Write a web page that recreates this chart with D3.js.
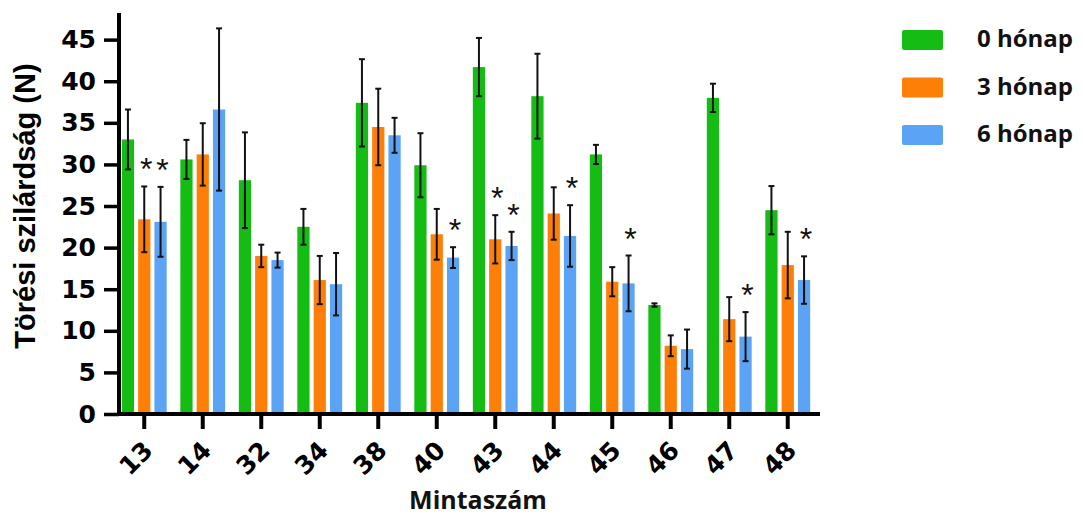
<!DOCTYPE html>
<html>
<head>
<meta charset="utf-8">
<script src="https://cdnjs.cloudflare.com/ajax/libs/d3/7.8.5/d3.min.js"></script>
<style>
  body { margin: 0; background: #fff; }
  svg { display: block; }
</style>
</head>
<body>
<div id="chart"></div>
<script>
// minták és csoportok
var samples = ["13", "14", "32", "34", "38", "40", "43", "44", "45", "46", "47", "48"];
var series = ["0 hónap", "3 hónap", "6 hónap"];
var colors = ["#14bc14", "#fd7f08", "#5ba3f5"];

// átlagok és szórások (N)
var mean0 = [33.0, 30.6, 28.1, 22.5, 37.4, 29.9, 41.7, 38.2, 31.2, 13.1, 38.0, 24.5];
var sd0   = [3.6, 2.35, 5.75, 2.15, 5.25, 3.85, 3.5, 5.1, 1.15, 0.2, 1.7, 2.9];
var mean3 = [23.4, 31.2, 19.0, 16.1, 34.5, 21.6, 21.0, 24.1, 15.9, 8.2, 11.4, 17.9];
var sd3   = [3.95, 3.75, 1.35, 2.9, 4.6, 3.05, 2.9, 3.15, 1.75, 1.25, 2.65, 4.0];
var mean6 = [23.1, 36.6, 18.5, 15.6, 33.5, 18.8, 20.2, 21.4, 15.7, 7.8, 9.3, 16.1];
var sd6   = [4.2, 9.75, 0.9, 3.75, 2.1, 1.25, 1.7, 3.7, 3.35, 2.35, 2.95, 2.85];

// szignifikáns eltérés (*)
var sig3 = ["13", "43"];
var sig6 = ["13", "40", "43", "44", "45", "47", "48"];

var yTicks = [0, 5, 10, 15, 20, 25, 30, 35, 40, 45];
var yMax = 48.2;

var width = 1085, height = 517;

var svg = d3.select("#chart").append("svg")
    .attr("width", width)
    .attr("height", height);

var means = [mean0, mean3, mean6],
    sds = [sd0, sd3, sd6],
    sigs = [[], sig3, sig6];

var rows = [];
samples.forEach(function(s, i) {
    series.forEach(function(k, j) {
        rows.push({sample: s, series: k, idx: j, mean: means[j][i], sd: sds[j][i],
                   sig: sigs[j].indexOf(s) >= 0});
    });
});

var x0 = d3.scaleBand()
    .domain(samples)
    .range([115, 817])
    .paddingInner(0.094)
    .paddingOuter(0.047);

var x1 = d3.scaleBand()
    .domain(series)
    .range([0, x0.bandwidth()])
    .padding(0.25);

var y = d3.scaleLinear()
    .domain([0, yMax])
    .range([414, 13]);

// oszlopok
var bars = svg.append("g");
bars.selectAll("rect")
    .data(rows)
    .enter().append("rect")
    .attr("x", function(d) { return x0(d.sample) + x1(d.series); })
    .attr("y", function(d) { return y(d.mean); })
    .attr("width", x1.bandwidth())
    .attr("height", function(d) { return y(0) - y(d.mean); })
    .attr("fill", function(d) { return colors[d.idx]; });

// hibasávok
var cx = function(d) { return x0(d.sample) + x1(d.series) + x1.bandwidth() / 2; };
var err = svg.append("g").attr("stroke", "#111").attr("stroke-width", 2);
err.selectAll("line.v")
    .data(rows)
    .enter().append("line")
    .attr("class", "v")
    .attr("x1", cx).attr("x2", cx)
    .attr("y1", function(d) { return y(d.mean + d.sd); })
    .attr("y2", function(d) { return y(d.mean - d.sd); });
["top", "bot"].forEach(function(side) {
    err.selectAll("line." + side)
        .data(rows)
        .enter().append("line")
        .attr("class", side)
        .attr("x1", function(d) { return cx(d) - 3; })
        .attr("x2", function(d) { return cx(d) + 3; })
        .attr("y1", function(d) { return y(side == "top" ? d.mean + d.sd : d.mean - d.sd); })
        .attr("y2", function(d) { return y(side == "top" ? d.mean + d.sd : d.mean - d.sd); });
});

// csillagok
svg.append("g").selectAll("text")
    .data(rows.filter(function(d) { return d.sig; }))
    .enter().append("text")
    .attr("x", function(d) { return cx(d) + 2; })
    .attr("y", function(d) { return y(d.mean + d.sd) - 6; })
    .attr("text-anchor", "middle")
    .style("font-family", "Liberation Sans, Arial, sans-serif")
    .style("font-size", "32px")
    .style("fill", "#111")
    .text("*");

// y tengely
var yAxis = svg.append("g")
    .attr("transform", "translate(119,0)")
    .call(d3.axisLeft(y).tickValues(yTicks).tickSize(15).tickPadding(8));
yAxis.select(".domain").attr("stroke", "#000").attr("stroke-width", 4)
    .attr("d", "M0," + y(yMax) + "V" + (y(0) + 2));
yAxis.selectAll(".tick line").attr("stroke", "#000").attr("stroke-width", 3.5);
yAxis.selectAll(".tick text")
    .style("font-family", "DejaVu Sans, sans-serif")
    .style("font-weight", "bold")
    .style("font-size", "25px")
    .style("fill", "#000");

// x tengely
var xAxis = svg.append("g")
    .attr("transform", "translate(0," + y(0) + ")")
    .call(d3.axisBottom(x0).tickSize(15).tickSizeOuter(0));
xAxis.select(".domain").attr("stroke", "#000").attr("stroke-width", 4)
    .attr("d", "M117,0H820");
xAxis.selectAll(".tick line").attr("stroke", "#000").attr("stroke-width", 4);
xAxis.selectAll(".tick text")
    .attr("x", 0).attr("y", 0).attr("dy", null)
    .attr("transform", "translate(10,38) rotate(-45)")
    .attr("text-anchor", "end")
    .style("font-family", "DejaVu Sans, sans-serif")
    .style("font-weight", "bold")
    .style("font-size", "25px")
    .style("fill", "#000");

// tengelycímek
svg.append("text")
    .attr("transform", "translate(35,206) rotate(-90)")
    .attr("text-anchor", "middle")
    .style("font-family", "Liberation Sans, Arial, sans-serif")
    .style("font-weight", "bold")
    .style("font-size", "29px")
    .text("Törési szilárdság (N)");

svg.append("text")
    .attr("x", 478)
    .attr("y", 509)
    .attr("text-anchor", "middle")
    .style("font-family", "Open Sans, sans-serif")
    .style("font-weight", "bold")
    .style("font-size", "25px")
    .style("fill", "#111")
    .text("Mintaszám");

// jelmagyarázat
var legend = svg.append("g").selectAll("g")
    .data(series)
    .enter().append("g")
    .attr("transform", function(d, i) { return "translate(902," + (30 + i * 47.5) + ")"; });
legend.append("rect")
    .attr("width", 41).attr("height", 20).attr("rx", 2)
    .attr("fill", function(d, i) { return colors[i]; });
legend.append("text")
    .attr("x", 75).attr("y", 17)
    .style("font-family", "Open Sans, sans-serif")
    .style("font-weight", "bold")
    .style("font-size", "24px")
    .style("fill", "#111")
    .text(function(d) { return d; });
</script>
</body>
</html>
